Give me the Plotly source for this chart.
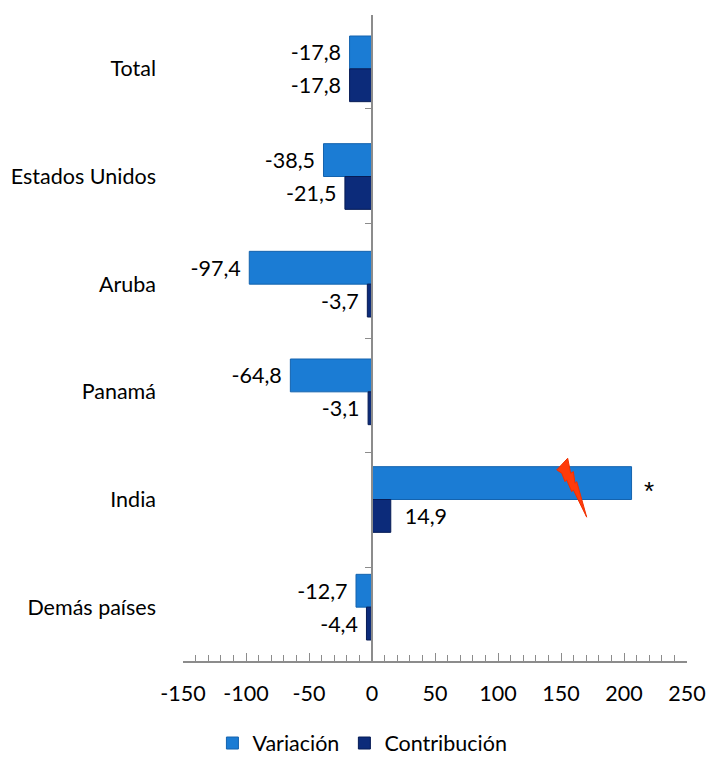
import plotly.graph_objects as go

categories = ["Total", "Estados Unidos", "Aruba", "Panamá", "India", "Demás países"]
variacion = [-17.8, -38.5, -97.4, -64.8, 206.0, -12.7]
variacion_labels = ["-17,8", "-38,5", "-97,4", "-64,8", "", "-12,7"]
contribucion = [-17.8, -21.5, -3.7, -3.1, 14.9, -4.4]
contribucion_labels = ["-17,8", "-21,5", "-3,7", "-3,1", "14,9", "-4,4"]
x_ticks = [-150, -100, -50, 0, 50, 100, 150, 200, 250]

FONT = "Lato, Carlito, Liberation Sans, sans-serif"
AXIS_COLOR = "#8c8c8c"
FS = 21.5
NB = "\u00a0"


def pad(labels, values):
    # keep a small gap between label and bar end, as in the original
    return [(t + NB if v < 0 else NB + NB + t) if t else "" for t, v in zip(labels, values)]


fig = go.Figure()
fig.add_trace(go.Bar(
    name="Variación", y=categories, x=variacion, orientation="h",
    marker=dict(color="#1B7CD4", line=dict(color="#1463AE", width=1)),
    text=pad(variacion_labels, variacion), textposition="outside", cliponaxis=False,
    constraintext="none", textfont=dict(size=FS, color="black", family=FONT),
))
fig.add_trace(go.Bar(
    name="Contribución", y=categories, x=contribucion, orientation="h",
    marker=dict(color="#0C2B7A", line=dict(color="#061B55", width=1)),
    text=pad(contribucion_labels, contribucion), textposition="outside", cliponaxis=False,
    constraintext="none", textfont=dict(size=FS, color="black", family=FONT),
))
# invisible helper trace for the category axis drawn at x = 0
fig.add_trace(go.Scatter(
    y=categories, x=[0] * len(categories), yaxis="y2", mode="markers",
    marker=dict(opacity=0), showlegend=False, hoverinfo="skip",
))

# lightning bolt (broken-axis marker) on the India bar
bolt = [(146.6, 3.725), (155.3, 3.617), (157.7, 3.756), (159.8, 3.741),
        (161.1, 3.849), (162.5, 3.834), (170.4, 4.164), (159.8, 3.911),
        (158.5, 3.927), (154.5, 3.818), (153.2, 3.834), (150.6, 3.756)]
path = "M " + " L ".join(f"{x},{y}" for x, y in bolt) + " Z"
fig.add_shape(type="path", path=path, xref="x", yref="y",
              fillcolor="#FF3B0A", line=dict(color="#F03000", width=1), layer="above")

fig.add_annotation(x=variacion[4], y="India", text="*", showarrow=False,
                   xanchor="left", xshift=10, yshift=9,
                   font=dict(size=26, color="black", family="Liberation Sans, sans-serif"))

fig.update_layout(
    width=709, height=750,
    margin=dict(l=175, r=30, t=7, b=97, autoexpand=False),
    plot_bgcolor="white", paper_bgcolor="white",
    barmode="group", bargap=0.39, bargroupgap=0,
    font=dict(family=FONT, size=FS, color="black"),
    xaxis=dict(
        range=[-150, 250], tickvals=x_ticks, ticktext=[str(v) for v in x_ticks],
        showline=True, linecolor=AXIS_COLOR, linewidth=1.5,
        ticks="inside", ticklen=8, tickcolor=AXIS_COLOR,
        minor=dict(dtick=10, ticks="inside", ticklen=6, tickcolor=AXIS_COLOR),
        showgrid=False, zeroline=False, ticklabelstandoff=12, automargin=False,
        tickfont=dict(size=FS, family=FONT),
    ),
    yaxis=dict(
        categoryorder="array", categoryarray=categories, autorange="reversed",
        showline=False, ticks="", showgrid=False, ticklabelstandoff=26,
        automargin=False, tickfont=dict(size=FS, family=FONT),
    ),
    yaxis2=dict(
        overlaying="y", anchor="free", position=0.375, side="left",
        categoryorder="array", categoryarray=categories, autorange="reversed",
        showline=True, linecolor=AXIS_COLOR, linewidth=1.5, automargin=False,
        ticks="outside", tickson="boundaries", ticklen=6, tickcolor=AXIS_COLOR,
        showticklabels=False, showgrid=False,
    ),
    legend=dict(orientation="h", x=0.356, xanchor="center", y=-0.127, yanchor="middle",
                font=dict(size=FS, family=FONT), itemwidth=30),
    showlegend=True,
)

fig.write_html("out.html")
